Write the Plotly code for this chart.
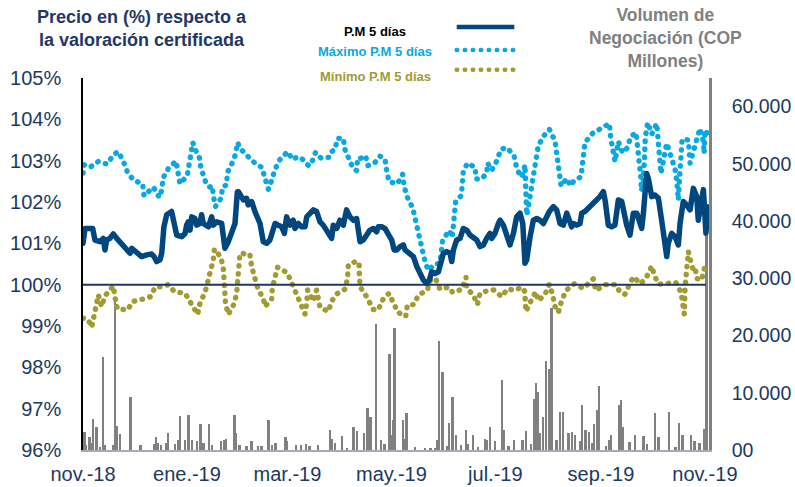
import pandas as pd
import plotly.graph_objects as go

BASE = pd.Timestamp("2018-11-01")

# P.M 5 días (days since 2018-11-01, % of certified valuation)
pm_day = [0, 1.2, 5.7, 7.0, 10.0, 11.9, 12.9, 13.9, 15.8, 17.8, 19.8, 22.7, 25.6, 27.6, 28.6, 31.5, 34.4, 37.4,
          40.3, 41.7, 43.2, 45.2, 46.2, 47.5, 49.1, 52.0, 53.4, 55.0, 57.9, 59.9, 60.8, 61.8, 62.8, 63.8, 65.7,
          66.7, 68.7, 69.6, 70.6, 72.6, 73.6, 75.5, 76.5, 78.4, 81.4, 82.4, 83.3, 85.3, 87.2, 89.2, 90.6, 91.2,
          94.1, 96.0, 97.0, 99.0, 100.9, 103.9, 105.8, 107.8, 109.7, 111.7, 112.7, 114.6, 116.6, 118.2, 119.5,
          121.5, 123.4, 124.4, 126.4, 128.3, 130.3, 131.3, 133.2, 135.2, 137.1, 139.1, 141.0, 144.0, 145.9,
          146.9, 148.9, 150.8, 151.8, 152.8, 154.7, 156.7, 158.6, 160.6, 162.6, 164.5, 166.5, 168.4, 170.4,
          172.3, 173.3, 175.3, 177.2, 179.2, 181.2, 182.6, 184.1, 186.1, 188.0, 189.0, 191.0, 193.9, 195.9,
          197.8, 199.8, 201.7, 203.3, 204.6, 206.6, 208.6, 210.5, 211.5, 213.5, 215.4, 216.4, 217.4, 219.3,
          221.3, 223.2, 225.2, 227.1, 229.1, 231.1, 233.0, 235.0, 236.9, 238.9, 239.9, 241.8, 243.8, 244.8,
          246.7, 248.7, 250.6, 252.6, 254.5, 256.5, 258.1, 259.4, 260.4, 262.4, 264.3, 266.3, 268.2, 270.2,
          272.1, 273.7, 276.1, 278.0, 280.0, 281.9, 283.9, 285.8, 286.8, 287.8, 289.8, 291.7, 292.7, 294.6,
          296.6, 298.6, 300.5, 303.4, 305.4, 306.4, 308.3, 310.3, 312.2, 314.2, 316.2, 317.1, 319.1, 321.0,
          322.0, 323.0, 325.0, 326.9, 327.9, 328.9, 329.9, 330.8, 331.8, 333.8, 335.7, 337.7, 339.6, 340.6,
          342.6, 343.5, 345.5, 347.5, 349.4, 350.4, 352.3, 354.3, 356.3, 358.2, 360.2, 361.1, 363.1, 364.1,
          365.6, 366.8]
pm_val = [101.00, 101.36, 101.36, 101.08, 101.04, 101.12, 100.84, 101.08, 101.12, 101.23, 101.12, 101.00, 100.84,
          100.76, 100.88, 100.76, 100.68, 100.72, 100.74, 100.68, 100.56, 100.60, 100.76, 101.40, 101.69, 101.77,
          101.56, 101.20, 101.16, 101.24, 101.44, 101.52, 101.32, 101.64, 101.60, 101.44, 101.48, 101.69, 101.48,
          101.44, 101.40, 101.64, 101.44, 101.52, 101.48, 101.16, 100.88, 101.04, 101.24, 101.48, 102.25, 102.25,
          102.05, 102.09, 101.93, 102.01, 101.77, 101.48, 101.04, 101.00, 101.08, 101.32, 101.48, 101.44, 101.40,
          101.24, 101.64, 101.44, 101.56, 101.36, 101.48, 101.40, 101.40, 101.64, 101.73, 101.81, 101.77, 101.52,
          101.44, 101.24, 101.12, 101.44, 101.36, 101.56, 101.52, 101.44, 101.81, 101.64, 101.56, 101.60, 101.04,
          101.08, 101.20, 101.32, 101.36, 101.28, 101.40, 101.40, 101.36, 101.24, 101.08, 100.84, 100.84, 100.92,
          100.96, 100.84, 100.76, 100.68, 100.44, 100.27, 100.11, 100.03, 100.11, 100.31, 100.27, 100.31, 100.64,
          100.76, 100.80, 100.76, 100.56, 100.84, 101.08, 101.12, 101.36, 101.32, 101.20, 101.12, 101.08, 100.92,
          100.96, 101.12, 101.24, 101.12, 101.24, 101.48, 101.56, 101.44, 101.20, 100.96, 101.24, 101.64, 101.73,
          101.48, 100.52, 100.60, 101.16, 101.56, 101.60, 101.56, 101.48, 101.64, 101.77, 101.89, 101.81, 101.48,
          101.44, 101.73, 101.52, 101.40, 101.48, 101.44, 101.48, 101.73, 101.77, 101.85, 101.93, 102.05, 102.13,
          102.25, 102.05, 101.44, 101.40, 101.44, 102.05, 102.01, 101.81, 101.44, 101.20, 101.56, 101.73, 101.73,
          101.48, 101.36, 101.73, 102.13, 102.69, 102.57, 102.13, 102.17, 102.09, 101.56, 101.16, 100.68, 101.00,
          101.24, 101.16, 100.96, 101.48, 102.01, 101.93, 101.81, 102.33, 102.13, 101.56, 102.13, 102.30, 101.25,
          101.88]

# Máximo P.M 5 días
mx_day = [0, 0.8, 4.1, 9.0, 11.5, 14.3, 17.8, 20.7, 23.7, 26.2, 29.9, 35.0, 35.8, 38.3, 41.3, 44.8, 46.2, 47.1,
          50.1, 54.6, 55.9, 56.9, 61.2, 62.4, 63.4, 64.4, 66.7, 68.1, 69.1, 70.4, 72.0, 74.1, 75.9, 76.5, 77.7,
          81.0, 82.0, 84.3, 84.7, 87.2, 89.4, 90.8, 92.1, 96.6, 100.9, 104.9, 106.8, 108.8, 110.7, 112.7, 115.6,
          120.1, 122.8, 126.4, 129.3, 132.6, 134.2, 136.5, 139.7, 144.4, 145.9, 147.9, 149.4, 152.8, 153.8, 155.7,
          158.6, 160.6, 161.2, 163.1, 165.9, 167.1, 171.0, 174.3, 177.2, 178.2, 179.6, 184.5, 187.6, 188.4, 190.4,
          193.5, 195.1, 196.8, 198.4, 199.8, 201.1, 203.1, 205.6, 209.5, 210.1, 211.1, 215.0, 216.6, 217.4, 218.3,
          218.7, 222.1, 222.5, 223.2, 225.6, 230.1, 230.7, 233.6, 236.9, 237.5, 239.9, 243.2, 245.1, 248.7, 253.0,
          254.5, 256.9, 258.4, 259.4, 259.8, 260.0, 260.4, 261.6, 262.8, 264.3, 265.3, 265.9, 267.2, 270.4, 273.7,
          277.0, 278.0, 279.0, 279.6, 280.6, 283.9, 286.2, 288.2, 292.3, 293.1, 293.7, 294.6, 299.1, 303.4, 308.9,
          309.7, 310.9, 312.2, 314.2, 316.7, 319.5, 321.4, 324.6, 325.4, 326.5, 327.3, 327.5, 327.7, 328.9, 329.5,
          330.0, 331.4, 333.8, 336.7, 337.7, 338.7, 339.2, 342.6, 344.9, 347.5, 348.4, 349.0, 349.4, 350.0, 350.8,
          351.6, 355.3, 356.3, 358.2, 360.2, 362.1, 364.1, 364.5, 365.1, 366.8]
mx_val = [102.70, 102.90, 102.84, 102.98, 102.94, 102.92, 103.14, 103.22, 102.98, 102.71, 102.52, 102.44, 102.15,
          102.23, 102.36, 102.11, 102.29, 102.59, 102.81, 102.99, 102.72, 102.44, 102.64, 102.92, 103.19, 103.44,
          103.19, 103.12, 102.84, 102.66, 102.48, 102.36, 102.39, 102.15, 101.89, 102.09, 102.37, 102.41, 102.71,
          102.91, 103.14, 103.44, 103.30, 103.11, 102.94, 102.84, 102.57, 102.31, 102.52, 102.79, 103.03, 103.22,
          103.03, 103.10, 103.02, 102.87, 102.95, 103.20, 103.06, 103.08, 103.22, 103.27, 103.54, 103.54, 103.26,
          103.07, 102.81, 102.76, 103.06, 103.06, 103.12, 102.88, 102.94, 103.11, 103.04, 102.77, 102.49, 102.44,
          102.67, 102.39, 102.11, 101.86, 101.59, 101.32, 101.04, 100.76, 100.49, 100.34, 100.48, 100.52, 100.80,
          101.08, 101.31, 101.14, 101.44, 101.73, 102.01, 102.16, 102.44, 102.73, 102.94, 102.84, 102.56, 102.55,
          102.69, 102.94, 102.77, 103.02, 103.27, 103.32, 103.12, 102.83, 102.60, 102.69, 102.90, 102.37, 101.81,
          101.68, 101.94, 102.23, 102.51, 102.79, 103.07, 103.36, 103.60, 103.76, 103.48, 103.19, 102.94, 102.61,
          102.39, 102.57, 102.39, 102.52, 102.61, 102.90, 103.18, 103.44, 103.66, 103.78, 103.90, 103.56, 103.26,
          102.98, 103.46, 103.19, 103.31, 103.58, 103.68, 103.38, 103.11, 102.81, 102.55, 102.27, 102.49, 103.02,
          103.56, 103.92, 103.64, 103.90, 103.27, 102.98, 102.69, 103.42, 103.14, 102.79, 102.53, 102.27, 102.05,
          102.49, 103.18, 103.52, 103.50, 102.94, 103.22, 103.50, 103.78, 103.46, 103.18, 103.74, 103.62]

# Mínimo P.M 5 días
mn_day = [0, 3.1, 5.1, 6.5, 7.6, 9.0, 10.9, 12.9, 15.8, 17.8, 18.8, 20.2, 26.2, 29.1, 35.0, 39.7, 42.3, 46.2, 50.1,
          53.6, 59.9, 62.4, 65.7, 67.3, 68.7, 71.6, 73.4, 75.1, 76.5, 77.1, 81.0, 82.4, 82.7, 82.9, 83.7, 85.3,
          88.6, 90.2, 90.8, 91.2, 92.1, 93.5, 97.0, 98.0, 99.0, 100.9, 102.9, 105.8, 106.8, 110.7, 111.1, 112.7,
          114.2, 119.9, 122.8, 125.4, 127.3, 130.3, 131.3, 131.8, 133.2, 135.2, 137.1, 139.1, 144.0, 145.9, 149.4,
          154.1, 155.3, 155.7, 160.0, 162.0, 162.2, 162.6, 166.1, 168.4, 170.4, 173.7, 174.5, 176.2, 179.6, 181.8,
          182.5, 184.5, 189.4, 190.4, 194.3, 196.8, 202.1, 204.1, 207.0, 209.5, 214.6, 217.0, 222.5, 224.8, 225.2,
          229.1, 231.5, 233.0, 238.5, 241.2, 245.7, 249.3, 253.0, 257.5, 259.4, 259.6, 260.0, 262.8, 265.7, 267.2,
          271.2, 273.7, 275.7, 277.0, 279.0, 280.9, 283.5, 288.4, 293.7, 299.5, 300.9, 306.4, 312.8, 315.2, 318.1,
          321.0, 323.0, 327.3, 330.8, 333.8, 335.1, 337.7, 343.5, 348.0, 351.0, 351.9, 352.9, 353.3, 353.9, 354.3,
          355.3, 355.9, 357.8, 359.2, 360.2, 363.1, 364.7, 366.0]
mn_val = [99.19, 99.15, 98.97, 99.21, 99.51, 99.75, 99.47, 99.73, 99.87, 99.97, 99.69, 99.41, 99.39, 99.59, 99.65,
          99.71, 99.94, 99.95, 100.00, 99.83, 99.79, 99.59, 99.39, 99.28, 99.56, 99.81, 100.07, 100.30, 100.60,
          100.86, 100.66, 100.37, 100.09, 99.81, 99.53, 99.28, 99.53, 99.79, 100.05, 100.34, 100.74, 100.77, 100.68,
          100.71, 100.44, 100.15, 99.87, 99.67, 99.47, 99.65, 99.91, 100.18, 100.42, 100.29, 100.03, 99.79, 99.55,
          99.29, 99.56, 99.87, 99.75, 99.60, 99.87, 99.45, 99.35, 99.60, 99.79, 99.90, 100.21, 100.48, 100.56,
          100.54, 100.25, 99.95, 99.73, 99.51, 99.40, 99.40, 99.55, 99.65, 99.79, 99.59, 99.55, 99.34, 99.23, 99.51,
          99.52, 99.75, 99.87, 100.13, 100.14, 99.89, 99.94, 99.81, 99.89, 100.18, 99.91, 99.75, 99.52, 99.79, 99.87,
          99.87, 99.71, 99.90, 99.86, 99.94, 99.83, 99.55, 99.35, 99.60, 99.83, 99.61, 99.77, 100.01, 99.75, 99.47,
          99.33, 99.61, 99.86, 100.02, 99.91, 100.14, 99.86, 100.00, 100.00, 99.81, 99.77, 100.03, 100.19, 100.02,
          100.19, 100.45, 100.25, 100.01, 100.05, 100.05, 99.81, 99.55, 99.29, 99.91, 100.23, 100.50, 100.80, 100.68,
          100.40, 100.44, 100.15, 100.11, 100.40, 100.29]

# Volumen de negociación (COP millones)
vol_day = [1, 2, 4, 5, 6, 8, 10, 12, 13, 18, 19, 20, 22, 28, 34, 42, 43, 44, 46, 49, 50, 54, 56, 57, 60, 62, 64,
           67, 69, 71, 74, 76, 81, 83, 84, 89, 90, 92, 96, 99, 103, 105, 109, 111, 113, 119, 120, 125, 128, 131,
           133, 138, 145, 146, 148, 152, 155, 159, 161, 165, 167, 169, 172, 175, 177, 180, 181, 182, 183, 188, 189,
           190, 195, 201, 204, 207, 208, 209, 211, 214, 215, 217, 219, 222, 225, 226, 229, 232, 236, 237, 239, 242,
           246, 247, 250, 253, 258, 260, 263, 265, 266, 267, 268, 270, 272, 274, 275, 278, 280, 282, 285, 287, 289,
           292, 293, 295, 297, 299, 300, 302, 303, 307, 309, 310, 315, 316, 317, 321, 324, 329, 331, 336, 338, 344,
           348, 350, 352, 357, 359, 362, 365, 366]
vol = [3200, 800, 2300, 1200, 5500, 4100, 600, 16300, 900, 900, 26000, 4200, 2800, 9200, 800, 1000, 2200, 1300,
       900, 1200, 3000, 1000, 1700, 6000, 1800, 6100, 1700, 1500, 4500, 1200, 4500, 900, 1500, 1800, 2000, 6100,
       3000, 900, 700, 1500, 700, 700, 5250, 800, 1200, 2200, 1500, 800, 800, 1000, 700, 800, 3500, 2000, 1200,
       2500, 400, 4100, 3300, 2900, 7300, 5800, 22000, 1700, 1000, 16700, 2700, 5300, 21400, 5250, 2000, 6400, 500,
       200, 200, 300, 1800, 19000, 13700, 700, 4800, 9200, 2600, 800, 3500, 1000, 2600, 600, 2000, 1800, 4000,
       1500, 12250, 3500, 700, 1700, 1800, 3300, 1000, 8900, 11700, 10200, 3000, 5700, 15600, 14100, 24900, 1700,
       6700, 6600, 2900, 3200, 2600, 1500, 7900, 3500, 3200, 1200, 4500, 7000, 11100, 700, 1800, 2600, 7900, 8750,
       4000, 1400, 2600, 2400, 1000, 6400, 2300, 6700, 500, 4800, 2600, 2600, 1500, 1300, 3700, 42900]

tick_dates = ["2018-11-01", "2019-01-01", "2019-03-01", "2019-05-01", "2019-07-01", "2019-09-01", "2019-11-01"]
tick_text = ["nov.-18", "ene.-19", "mar.-19", "may.-19", "jul.-19", "sep.-19", "nov.-19"]
pct_ticks = [96, 97, 98, 99, 100, 101, 102, 103, 104, 105]
vol_ticks = [0, 10000, 20000, 30000, 40000, 50000, 60000]
vol_text = ["00", "10.000", "20.000", "30.000", "40.000", "50.000", "60.000"]


def to_dates(days):
    return BASE + pd.to_timedelta(pd.Series(days, dtype=float), unit="D")


NAVY = "#00467F"
BLUE = "#0AA8E2"
OLIVE = "#A19B32"
TXT = "#1B3A5C"
GRAY = "#808080"
FONT = "Liberation Sans, Arial, sans-serif"

fig = go.Figure()
fig.add_trace(go.Bar(x=to_dates(vol_day), y=vol, marker=dict(color=GRAY, line=dict(width=0)),
                     width=86400000 * 1.15, yaxis="y", name="Volumen"))
fig.add_trace(go.Scatter(x=to_dates(mn_day), y=mn_val, mode="lines", yaxis="y2", name="Mínimo P.M 5 días",
                         line=dict(color=OLIVE, width=5.4, dash="0.5px,7.5px")))
fig.add_trace(go.Scatter(x=to_dates(mx_day), y=mx_val, mode="lines", yaxis="y2", name="Máximo P.M 5 días",
                         line=dict(color=BLUE, width=5.4, dash="0.5px,7.5px")))
fig.add_trace(go.Scatter(x=to_dates(pm_day), y=pm_val, mode="lines", yaxis="y2", name="P.M 5 días",
                         line=dict(color=NAVY, width=5.5)))

x_end = BASE + pd.Timedelta(days=367.4)

fig.update_layout(
    width=795, height=487,
    margin=dict(l=83, r=86, t=78, b=37, autoexpand=False),
    paper_bgcolor="white", plot_bgcolor="white",
    showlegend=False, bargap=0,
    font=dict(family=FONT, color=TXT),
    xaxis=dict(type="date", range=[BASE, x_end], tickvals=tick_dates, ticktext=tick_text, automargin=False,
               showgrid=False, zeroline=False, showline=True, linecolor="#A6AAB4", linewidth=1.5,
               ticks="", tickfont=dict(size=20, color=TXT, family=FONT), ticklabelstandoff=5),
    yaxis=dict(side="right", range=[0, 65000], tickvals=vol_ticks, ticktext=vol_text, automargin=False,
               showgrid=False, zeroline=False, showline=True, linecolor=GRAY, linewidth=2.5,
               ticks="", tickfont=dict(size=19.5, color=TXT, family=FONT), ticklabelstandoff=16),
    yaxis2=dict(side="left", overlaying="y", range=[96, 105], tickvals=pct_ticks, automargin=False,
                ticktext=[f"{v}%" for v in pct_ticks],
                showgrid=False, zeroline=False, showline=True, linecolor="black", linewidth=1.5,
                ticks="", tickfont=dict(size=20, color=TXT, family=FONT), ticklabelstandoff=16),
)

# 100% reference line
fig.add_shape(type="line", xref="paper", yref="y2", x0=0, x1=0.995, y0=100, y1=100,
              line=dict(color="#1F3864", width=2))

# Titles
fig.add_annotation(xref="paper", yref="paper", x=0.094, y=1.132, xanchor="center", yanchor="middle",
                   text="<b>Precio en (%) respecto a<br>la valoración certificada</b>", showarrow=False,
                   font=dict(size=18, color="#1F3864", family=FONT), align="center")
fig.add_annotation(xref="paper", yref="paper", x=0.931, y=1.1075, xanchor="center", yanchor="middle",
                   text="<b>Volumen de<br>Negociación (COP<br>Millones)</b>", showarrow=False,
                   font=dict(size=17.5, color=GRAY, family=FONT), align="center")

# Legend (text to the left of line samples)
leg = [("P.M 5 días", "black", NAVY, None, 1.126, 1.137),
       ("Máximo P.M 5 días", BLUE, BLUE, "0.5px,7.5px", 1.070, 1.075),
       ("Mínimo P.M 5 días", OLIVE, OLIVE, "0.5px,7.5px", 1.003, 1.022)]
for label, tcol, lcol, dash, ty, ly in leg:
    fig.add_annotation(xref="paper", yref="paper", x=0.467, y=ty, xanchor="center", yanchor="middle",
                       text=f"<b>{label}</b>", showarrow=False, font=dict(size=13, color=tcol, family=FONT))
    ln = dict(color=lcol, width=4.5)
    if dash:
        ln["dash"] = dash
    fig.add_shape(type="line", xref="paper", yref="paper", x0=0.597, x1=0.689, y0=ly, y1=ly, line=ln)

post = """
document.body.style.margin='0';
var gd=document.getElementById('{plot_id}');
gd.querySelectorAll('.scatterlayer .trace path.js-line').forEach(function(p){
  p.style.strokeLinecap='round'; p.style.strokeLinejoin='round';
});
gd.querySelectorAll('.shapelayer path').forEach(function(p){
  if (p.style.strokeDasharray && p.style.strokeDasharray !== 'none') { p.style.strokeLinecap='round'; }
});
"""

fig.write_html("out.html", post_script=post, config={"displayModeBar": False})
